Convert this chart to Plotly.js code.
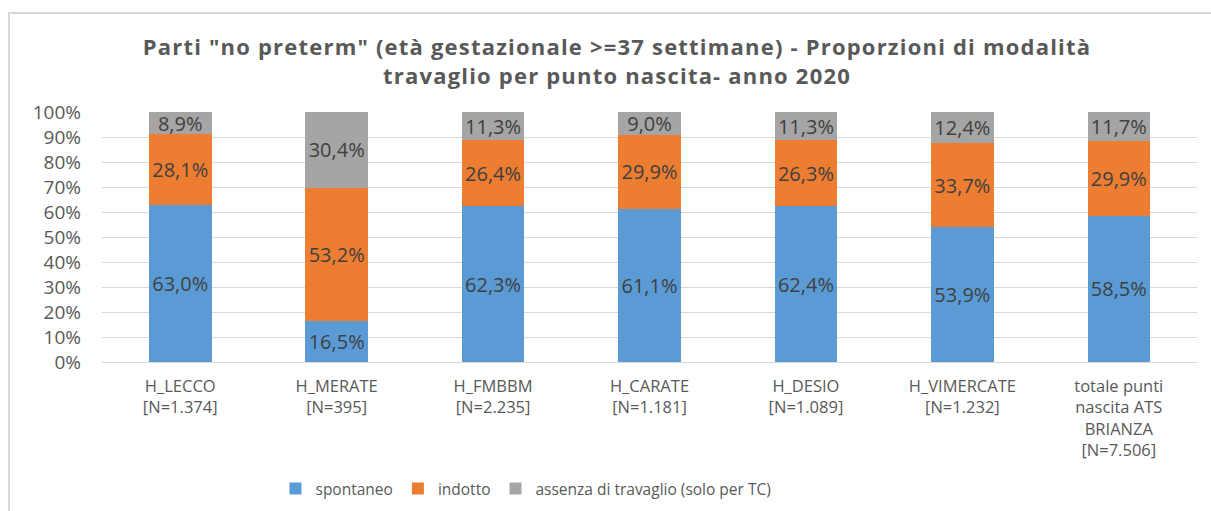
<!DOCTYPE html>
<html>
<head>
<meta charset="utf-8">
<script src="https://cdn.plot.ly/plotly-3.0.1.min.js"></script>
<style>
  html, body { margin: 0; padding: 0; background: #ffffff; }
  #wrap { position: relative; width: 1211px; height: 511px; overflow: hidden; }
  #chart { width: 1211px; height: 511px; }
  #frame { position: absolute; left: 8px; top: 12px; width: 1300px; height: 600px;
           border-top: 2px solid #d9d9d9; border-left: 2px solid #d9d9d9;
           pointer-events: none; }
  .gtitle { letter-spacing: 1.2px; }
</style>
</head>
<body>
<div id="wrap">
  <div id="chart"></div>
  <div id="frame"></div>
</div>
<script>
const categories = [
  "H_LECCO<br>[N=1.374]",
  "H_MERATE<br>[N=395]",
  "H_FMBBM<br>[N=2.235]",
  "H_CARATE<br>[N=1.181]",
  "H_DESIO<br>[N=1.089]",
  "H_VIMERCATE<br>[N=1.232]",
  "totale punti<br>nascita ATS<br>BRIANZA<br>[N=7.506]"
];
const spontaneo = [63.0, 16.5, 62.3, 61.1, 62.4, 53.9, 58.5];
const indotto   = [28.1, 53.2, 26.4, 29.9, 26.3, 33.7, 29.9];
const assenza   = [8.9, 30.4, 11.3, 9.0, 11.3, 12.4, 11.7];
const seriesNames = ["spontaneo", "indotto", "assenza di travaglio (solo per TC)"];
const yTickVals = [0, 10, 20, 30, 40, 50, 60, 70, 80, 90, 100];
const yTickText = ["0%", "10%", "20%", "30%", "40%", "50%", "60%", "70%", "80%", "90%", "100%"];

const FONT = "'Open Sans', 'Liberation Sans', sans-serif";
const colors = ["#5B9BD5", "#ED7D31", "#A5A5A5"];

function mk(vals, i) {
  return {
    type: "bar",
    name: seriesNames[i],
    x: categories,
    y: vals,
    marker: { color: colors[i] },
    texttemplate: "%{y:.1f}%",
    textposition: "inside",
    insidetextanchor: "middle",
    textangle: 0,
    constraintext: "none",
    textfont: { family: FONT, size: 20, color: "#404040" },
    hoverinfo: "skip"
  };
}

const data = [mk(spontaneo, 0), mk(indotto, 1), mk(assenza, 2)];

const layout = {
  width: 1211,
  height: 511,
  barmode: "stack",
  bargap: 0.6,
  separators: ",.",
  paper_bgcolor: "#ffffff",
  plot_bgcolor: "#ffffff",
  margin: { l: 102, r: 14, t: 112, b: 149 },
  font: { family: FONT, color: "#595959" },
  title: {
    text: "Parti \"no preterm\" (età gestazionale >=37 settimane) - Proporzioni di modalità<br>travaglio per punto nascita- anno 2020",
    font: { family: FONT, size: 22, color: "#595959", weight: "bold" },
    x: 0.5095, xanchor: "center", xref: "container",
    y: 1 - 55 / 511, yanchor: "top", yref: "container"
  },
  xaxis: {
    type: "category",
    showgrid: false,
    showline: true,
    linecolor: "#d9d9d9",
    linewidth: 1,
    ticks: "",
    ticklabelstandoff: 9,
    tickfont: { family: FONT, size: 16.5, color: "#595959" },
    fixedrange: true
  },
  yaxis: {
    range: [0, 100],
    tickmode: "array",
    tickvals: yTickVals,
    ticktext: yTickText,
    showgrid: true,
    gridcolor: "#d9d9d9",
    gridwidth: 1,
    zeroline: false,
    showline: false,
    ticks: "",
    ticklabelstandoff: 20,
    tickfont: { family: FONT, size: 19, color: "#595959" },
    fixedrange: true
  },
  showlegend: true,
  legend: {
    orientation: "h",
    xref: "container",
    x: 526 / 1211, xanchor: "center",
    yref: "container",
    y: 1 - 489 / 511, yanchor: "middle",
    font: { family: FONT, size: 15.5, color: "#595959" },
    itemwidth: 30,
    traceorder: "normal",
    bgcolor: "rgba(0,0,0,0)"
  }
};

Plotly.newPlot("chart", data, layout, { displayModeBar: false, staticPlot: true });
</script>
</body>
</html>
